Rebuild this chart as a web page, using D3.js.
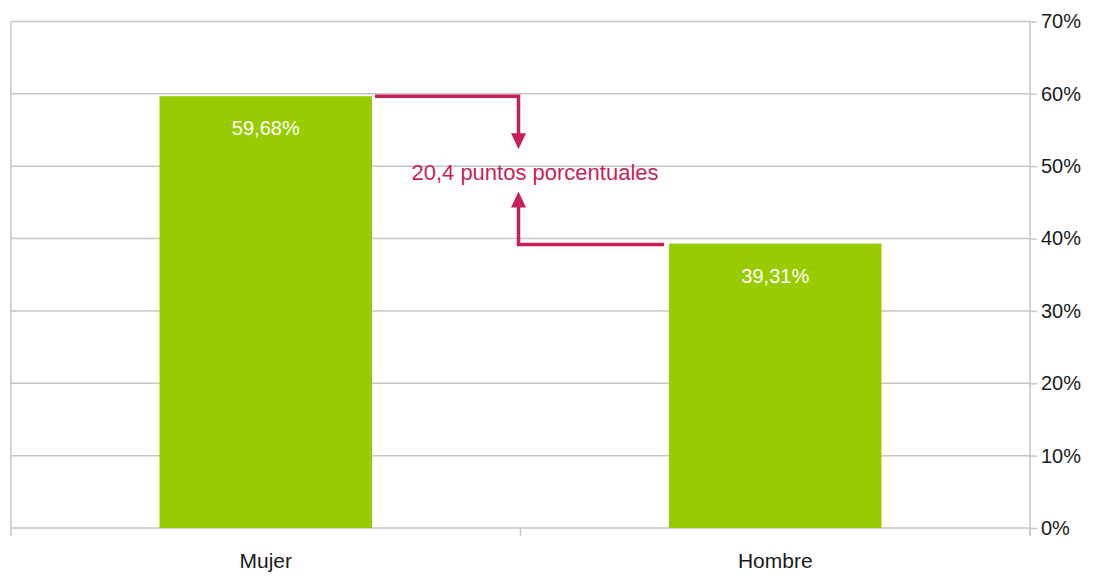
<!DOCTYPE html>
<html><head><meta charset="utf-8">
<script src="https://cdn.jsdelivr.net/npm/d3@7"></script>
<style>body{margin:0;background:#fff}svg{display:block}text{font-family:"Liberation Sans",Arial,sans-serif}</style>
</head><body><svg id="c" width="1096" height="576"></svg>
<script>
const categories = ["Mujer", "Hombre"];
const values = [59.68, 39.31];
const valueLabels = ["59,68%", "39,31%"];
const yTicks = [0, 10, 20, 30, 40, 50, 60, 70];
const annotationText = "20,4 puntos porcentuales";

const svg = d3.select("#c");
const L = 11, R = 1030, T = 21.5, B = 528;
const x = d3.scaleBand().domain(categories).range([L, R]).paddingInner(0.583).paddingOuter(0.2915);
const xb = d3.scaleBand().domain(categories).range([L, R]);
const y = d3.scaleLinear().domain([0, 70]).range([B, T]);
const grid = "#c6c6c6", green = "#99cc00", pink = "#c81f57";

// gridlines
svg.append("g").selectAll("line").data(yTicks).join("line")
  .attr("x1", L).attr("x2", R).attr("y1", d => y(d)).attr("y2", d => y(d))
  .attr("stroke", grid).attr("stroke-width", 1.5);
// left border
svg.append("line").attr("x1", L).attr("x2", L).attr("y1", T).attr("y2", B).attr("stroke", grid).attr("stroke-width", 1.5);

// right axis
const ya = svg.append("g").attr("transform", `translate(${R},0)`)
  .call(d3.axisRight(y).tickValues(yTicks).tickSize(7).tickPadding(4).tickFormat(d => d + "%"));
ya.select(".domain").attr("stroke", grid).attr("stroke-width", 1.5).attr("d", `M0,${T}V${B+7}`);
ya.selectAll(".tick line").attr("stroke", grid).attr("stroke-width", 1.5);
ya.selectAll(".tick text").attr("font-size", 20).attr("fill", "#1a1a1a").attr("font-family", "Liberation Sans");

// bottom ticks
const bt = [L, xb("Hombre"), R];
svg.append("g").selectAll("line").data(bt).join("line")
  .attr("x1", d => d).attr("x2", d => d).attr("y1", B).attr("y2", B + 8)
  .attr("stroke", grid).attr("stroke-width", 1.5);
svg.append("g").selectAll("text").data(categories).join("text")
  .attr("x", d => xb(d) + xb.bandwidth() / 2).attr("y", 568)
  .attr("text-anchor", "middle").attr("font-size", 21).attr("fill", "#1a1a1a").text(d => d);

// bars
svg.append("g").selectAll("rect").data(values).join("rect")
  .attr("x", (d, i) => x(categories[i])).attr("width", x.bandwidth())
  .attr("y", d => y(d)).attr("height", d => B - y(d)).attr("fill", green);
svg.append("g").selectAll("text").data(values).join("text")
  .attr("x", (d, i) => x(categories[i]) + x.bandwidth() / 2).attr("y", d => y(d) + 39)
  .attr("text-anchor", "middle").attr("font-size", 20).attr("fill", "#fff")
  .text((d, i) => valueLabels[i]);

// annotation
const ax = xb("Hombre") - 2;
const yTop = y(values[0]), yBot = y(values[1]);
const ann = svg.append("g");
ann.append("path").attr("d", `M${x("Mujer") + x.bandwidth() + 3},${yTop}H${ax}V${yTop + 40}`)
  .attr("fill", "none").attr("stroke", pink).attr("stroke-width", 3.5);
ann.append("path").attr("d", `M${ax - 7.5},${yTop + 37}L${ax + 7.5},${yTop + 37}L${ax},${yTop + 53}Z`).attr("fill", pink);
ann.append("path").attr("d", `M${x("Hombre") - 5},${yBot + 1}H${ax}V${yBot - 38}`)
  .attr("fill", "none").attr("stroke", pink).attr("stroke-width", 3.5);
ann.append("path").attr("d", `M${ax - 7.5},${yBot - 36}L${ax + 7.5},${yBot - 36}L${ax},${yBot - 52}Z`).attr("fill", pink);
ann.append("text").attr("x", 535).attr("y", 180).attr("text-anchor", "middle")
  .attr("font-size", 22).attr("fill", pink).text(annotationText);
</script></body></html>
